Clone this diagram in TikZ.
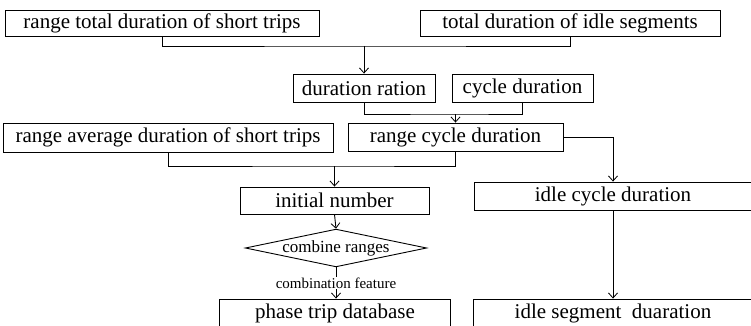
\documentclass[tikz,border=0pt]{standalone}
\usepackage{fontspec}
\setmainfont{Liberation Serif}
\usetikzlibrary{arrows.meta,shapes.geometric}
\tikzset{
  box/.style={draw=black, line width=0.9pt, inner sep=0pt, font=\fontsize{21}{24}\selectfont},
  conn/.style={line width=0.9pt, draw=black},
  arr/.style={conn, -{Straight Barb[length=5pt,width=9pt,line width=0.8pt]}},
  dia/.style={draw=black, line width=0.9pt, shape=diamond, shape aspect=4.8, inner sep=0pt, font=\fontsize{17}{19}\selectfont},
  lbl/.style={fill=white, inner sep=1pt, font=\fontsize{15}{17}\selectfont}
}
\begin{document}
\begin{tikzpicture}[x=1pt,y=-1pt]
\useasboundingbox (0,0) rectangle (751,326);
\clip (0,0) rectangle (751,326);
\node[box, minimum width=314pt, minimum height=26pt] (A) at (162,23) {range total duration of short trips};
\node[box, minimum width=300pt, minimum height=26pt] (B) at (570,23) {total duration of idle segments};
\node[box, minimum width=142pt, minimum height=28pt] (C) at (364,88) {duration ration};
\node[box, minimum width=141pt, minimum height=28pt] (D) at (522.5,88) {cycle duration};
\node[box, minimum width=215pt, minimum height=28pt] (E) at (455.5,137) {range cycle duration};
\node[box, minimum width=330pt, minimum height=29pt] (F) at (168,137.5) {range average duration of short trips};
\node[box, minimum width=189pt, minimum height=27pt] (G) at (334.5,200.5) {initial number};
\node[dia, minimum width=174pt, minimum height=36pt] (K) at (336,248) {combine ranges};
\node[box, minimum width=231pt, minimum height=28pt] (H) at (335,313) {phase trip database};
\node[box, minimum width=278pt, minimum height=28pt] (I) at (613,196) {idle cycle duration};
\node[box, minimum width=280pt, minimum height=28pt] (J) at (613,313) {idle segment\ \ duaration};
\coordinate (m1) at (364,46);
\coordinate (m2) at (455.5,114);
\coordinate (m3) at (334.5,166);
\draw[conn] (A.south) |- (m1) -| (B.south);
\draw[arr] (m1) -- (C.north);
\draw[conn] (C.south) |- (m2) -| (D.south);
\draw[arr] (m2) -- (E.north);
\draw[conn] (F.south) |- (m3) -| (E.south);
\draw[arr] (m3) -- (G.north);
\draw[arr] (G.south) -- (K.north);
\draw[arr] (K.south) -- node[lbl] {combination feature} (K.south |- H.north);
\draw[arr] (E.east) -| (I.north);
\draw[arr] (I.south) -- (J.north);
\end{tikzpicture}
\end{document}
